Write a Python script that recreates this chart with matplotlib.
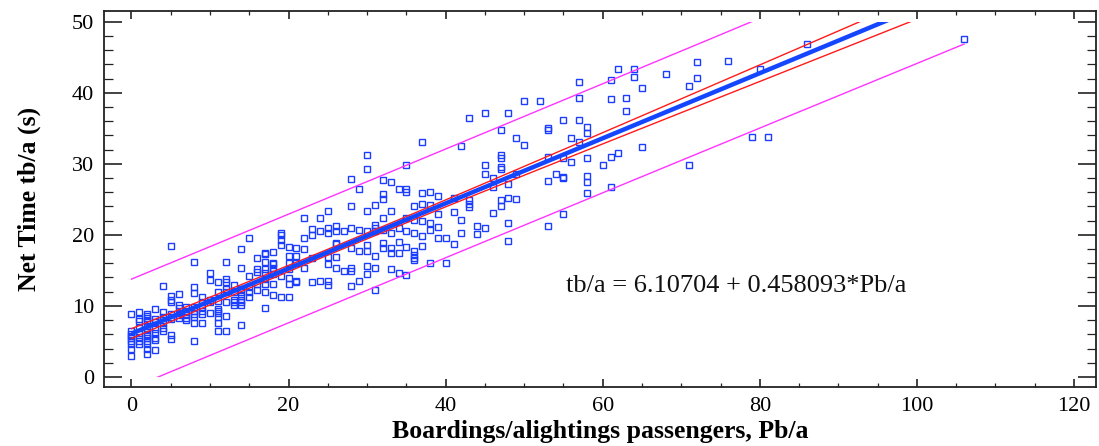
import numpy as np
import matplotlib
matplotlib.use("Agg")
import matplotlib.pyplot as plt
from matplotlib.patches import Rectangle
from matplotlib.ticker import MultipleLocator

plt.rcParams["font.family"] = ["Liberation Serif", "DejaVu Serif"]

# boardings/alightings at a stop (Pb/a) and the net times observed for each count
pb_counts = [0, 1, 2, 3, 4, 5, 6, 7, 8, 9,
             10, 11, 12, 13, 14, 15, 16, 17, 18, 19,
             20, 21, 22, 23, 24, 25, 26, 27, 28, 29,
             30, 31, 32, 33, 34, 35, 36, 37, 38, 39,
             40, 41, 42, 43, 44, 45, 46, 47, 48, 49,
             50, 52, 53, 54, 55, 56, 57, 58, 60, 61,
             62, 63, 64, 65, 68, 71, 72, 76, 79, 80,
             81, 86, 106]
tb_values = [
    [8.9, 6.5, 6.1, 5.8, 5.5, 5.1, 4.7, 3.9, 2.9],
    [9.15, 8.2, 7.9, 6.9, 6.2, 5.6, 5.0, 4.6],
    [8.9, 8.6, 8.3, 7.9, 7.2, 6.7, 6.1, 5.8, 5.5, 5.1, 4.7, 4.0, 3.3],
    [9.6, 8.2, 7.8, 6.8, 6.2, 5.5, 5.25, 3.85],
    [12.8, 9.15, 8.4, 8.0, 7.65, 6.9, 6.4],
    [18.45, 11.4, 10.9, 10.5, 8.8, 8.45, 8.1, 5.9, 5.3],
    [11.7, 10.1, 9.7, 9.05, 8.7, 8.3],
    [9.8, 9.3, 8.7, 8.35, 8.0],
    [16.2, 12.6, 11.8, 9.9, 9.3, 8.8, 8.45, 7.55, 5.0],
    [11.2, 10.5, 9.8, 9.3, 8.8, 7.55],
    [14.7, 13.7, 10.9, 10.5, 9.05],
    [13.3, 11.9, 10.7, 9.5, 9.3, 9.05, 8.5, 7.55, 6.5],
    [16.2, 13.75, 13.3, 12.35, 11.9, 10.5, 8.6, 6.4],
    [12.9, 11.9, 10.9, 10.5, 10.1],
    [18.0, 15.4, 12.35, 11.9, 11.4, 10.9, 10.5, 10.1, 7.3],
    [19.6, 14.2, 12.7, 11.9, 11.3],
    [16.7, 15.25, 14.8, 13.05, 12.2],
    [17.5, 17.3, 16.2, 15.2, 14.7, 13.75, 13.1, 12.0, 9.7],
    [17.65, 16.1, 15.9, 15.4, 14.9, 14.5, 13.15, 11.55],
    [20.3, 20.0, 19.25, 18.55, 14.2, 11.3],
    [18.35, 17.0, 16.1, 15.2, 13.9, 13.05, 11.3],
    [18.1, 17.0, 16.1, 13.5, 13.3],
    [22.4, 19.5, 18.0, 15.4],
    [20.8, 20.0, 16.8, 13.3],
    [22.4, 20.5, 13.5],
    [23.4, 21.0, 20.2, 16.9, 15.9, 13.5, 12.9],
    [21.2, 20.5, 18.9, 18.7, 16.9, 15.4],
    [20.5, 14.9],
    [27.9, 24.1, 20.9, 18.2, 15.4, 14.9, 12.8],
    [26.5, 20.7, 17.7, 13.5],
    [31.3, 29.3, 23.4, 20.5, 18.6, 17.7, 15.6, 14.5],
    [24.2, 21.4, 21.0, 20.6, 17.0, 15.4, 12.2],
    [27.7, 25.8, 25.0, 22.4, 20.7, 18.8, 18.2],
    [27.4, 23.4, 20.2, 18.2, 17.5, 15.2],
    [26.4, 21.0, 19.0, 17.5, 14.6],
    [29.9, 26.4, 26.1, 22.4, 20.6, 18.3, 14.3],
    [24.0, 22.1, 20.2, 17.7, 17.2, 16.8, 16.4],
    [33.0, 25.9, 24.3, 22.0, 19.8, 18.45],
    [26.1, 24.2, 21.7, 20.7, 16.1],
    [25.4, 23.0, 21.1, 19.6],
    [19.5, 16.0],
    [25.2, 23.2, 18.7],
    [32.5, 22.1, 20.3],
    [36.5, 24.9, 24.3, 23.9],
    [21.2, 20.1],
    [37.1, 29.8, 28.6, 21.0],
    [28.0, 26.8, 23.1],
    [34.8, 31.3, 30.8, 29.6, 29.2, 24.9, 24.1],
    [37.2, 27.2, 25.2, 21.6, 19.1],
    [33.7, 28.5, 25.1],
    [38.8, 32.7],
    [38.9],
    [35.1, 34.8, 31.0, 27.6, 21.3],
    [28.5],
    [36.2, 30.8, 28.2, 28.0, 22.9],
    [33.6, 30.3],
    [41.5, 39.3, 36.2, 33.1],
    [35.2, 34.4, 30.8, 28.3, 27.4, 25.9],
    [29.8],
    [41.8, 39.1, 30.9, 26.8],
    [43.3, 31.5],
    [39.2, 37.4],
    [43.3, 42.2],
    [40.7, 32.4],
    [42.7],
    [40.9, 29.9],
    [44.3, 42.1],
    [44.4],
    [33.8],
    [43.3],
    [33.8],
    [46.9],
    [47.5],
]

# fitted model printed on the chart
intercept = 6.10704
slope = 0.458093
t_95 = 1.967

x = np.concatenate([[p] * len(v) for p, v in zip(pb_counts, tb_values)]).astype(float)
y = np.concatenate(tb_values)

# confidence / prediction bands of the fit, evaluated at the observed counts
n = len(x)
resid = y - (intercept + slope * x)
s = np.sqrt(np.sum(resid ** 2) / (n - 2))
xbar = x.mean()
sxx = np.sum((x - xbar) ** 2)
xs = np.array(pb_counts, dtype=float)
fit = intercept + slope * xs
se_mean = s * np.sqrt(1.0 / n + (xs - xbar) ** 2 / sxx)
se_pred = s * np.sqrt(1.0 + 1.0 / n + (xs - xbar) ** 2 / sxx)

fig = plt.figure(figsize=(10.99, 4.46), dpi=100)
ax = fig.add_axes([0.0946, 0.1323, 0.9027, 0.843])

ax.plot(x, y, linestyle="none", marker="s", markersize=3.8,
        markerfacecolor="none", markeredgecolor="#1a3dff", markeredgewidth=1.0)

# curves are only drawn inside the 0..50 s band, like the original software
clip = Rectangle((-10, 0), 200, 50, transform=ax.transData)
lines = []
lines += ax.plot(xs, fit + t_95 * se_pred, color="#ff33ff", lw=1.0)
lines += ax.plot(xs, fit - t_95 * se_pred, color="#ff33ff", lw=1.0)
lines += ax.plot(xs, fit + t_95 * se_mean, color="#ff1a1a", lw=1.0)
lines += ax.plot(xs, fit - t_95 * se_mean, color="#ff1a1a", lw=1.0)
lines += ax.plot(xs, fit, color="#1446ff", lw=3.2, solid_capstyle="butt")
for ln in lines:
    ln.set_clip_path(clip)

ax.text(55.3, 12.8, "tb/a = 6.10704 + 0.458093*Pb/a", fontsize=19,
        va="center", ha="left", color="#111111")

ax.set_xlim(-3.5, 122.8)
ax.set_ylim(-1.41, 51.5)
ax.xaxis.set_major_locator(MultipleLocator(20))
ax.xaxis.set_minor_locator(MultipleLocator(5))
ax.yaxis.set_major_locator(MultipleLocator(10))
ax.yaxis.set_minor_locator(MultipleLocator(2))
ax.tick_params(which="both", direction="in", top=True, right=True,
               labelsize=16, color="#222222")
ax.tick_params(axis="x", which="major", length=5.5, width=1.2, pad=7)
ax.tick_params(axis="x", which="minor", length=3, width=0.9)
ax.tick_params(axis="y", which="major", length=13, width=1.2, pad=7)
ax.tick_params(axis="y", which="minor", length=6.5, width=0.9)
for sp in ax.spines.values():
    sp.set_linewidth(1.3)
    sp.set_color("#222222")

ax.set_xlabel("Boardings/alightings passengers, Pb/a", fontsize=18.5,
              fontweight="bold", labelpad=3)
ax.set_ylabel("Net Time tb/a (s)", fontsize=18.5, fontweight="bold", labelpad=22)

fig.savefig("out.png", dpi=100)
